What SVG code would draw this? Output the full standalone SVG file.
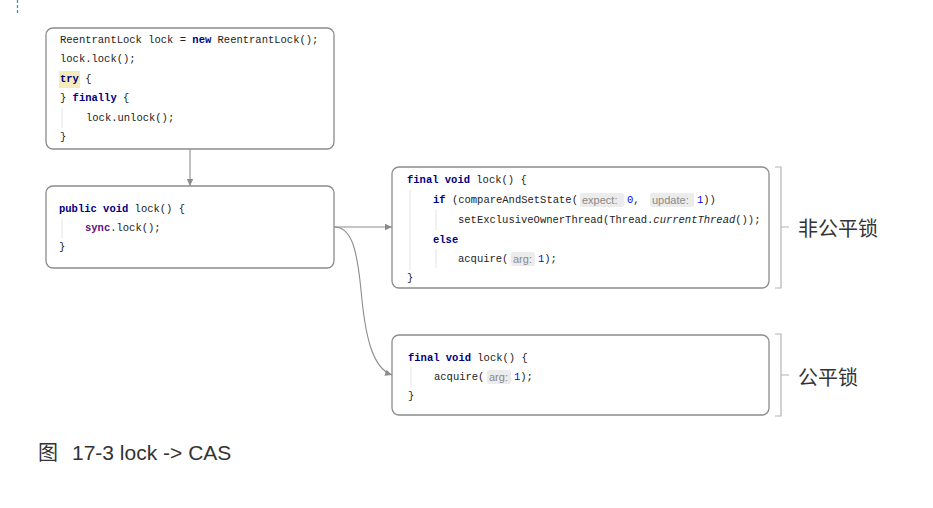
<svg xmlns="http://www.w3.org/2000/svg" width="933" height="508" viewBox="0 0 933 508">
<style>
.box{fill:#fff;stroke:#8c8c8c;stroke-width:1.3}
.code{font-family:"Liberation Mono","DejaVu Sans Mono",monospace;font-size:10.5px;fill:#222}
.kw{font-weight:bold;fill:#000080}
.fld{font-weight:bold;fill:#660E7A}
.num{fill:#0000FF}
.it{font-style:italic}
.hintbg{fill:#ececec}
.hint{font-family:"Liberation Sans","Noto Sans",sans-serif;font-size:11px;fill:#8a8a8a}
.guide{stroke:#e4e4e4;stroke-width:1}
.conn{fill:none;stroke:#8c8c8c;stroke-width:1.1}
.brk{fill:none;stroke:#b4b4b4;stroke-width:1.2}
.lbl{font-family:"Noto Sans CJK SC","Liberation Sans",sans-serif;font-size:20px;fill:#333}
.cap{font-family:"Liberation Sans","Noto Sans CJK SC",sans-serif;font-size:21px;fill:#333}
</style>
<defs>
<marker id="arr" markerWidth="8" markerHeight="8" refX="7" refY="4" orient="auto" markerUnits="userSpaceOnUse">
<path d="M0,0.8 L7,4 L0,7.2 Z" fill="#8c8c8c"/>
</marker>
</defs>
<rect width="933" height="508" fill="#fff"/>
<line x1="17.5" y1="0" x2="17.5" y2="14" stroke="#2aa39a" stroke-width="1.3" stroke-dasharray="3,2"/>

<g id="connectors">
<line class="conn" x1="190" y1="149" x2="190" y2="186" marker-end="url(#arr)"/>
<line class="conn" x1="334" y1="227" x2="392" y2="227" marker-end="url(#arr)"/>
<path class="conn" d="M334,227 C352,227 357,250 361,290 C365,335 372,368 392,375" marker-end="url(#arr)"/>
</g>

<g id="node-usage">
<rect class="box" x="46" y="28" width="288" height="121" rx="7"/>
<rect x="59" y="71" width="21" height="17" fill="#f6ebbc"/>
<line class="guide" x1="62" y1="108" x2="62" y2="128"/>
<text class="code" x="60" y="43">ReentrantLock lock = <tspan class="kw">new</tspan> ReentrantLock();</text>
<text class="code" x="60" y="62">lock.lock();</text>
<text class="code" x="60" y="82"><tspan class="kw">try</tspan> {</text>
<text class="code" x="60" y="101">} <tspan class="kw">finally</tspan> {</text>
<text class="code" x="86" y="121">lock.unlock();</text>
<text class="code" x="60" y="140">}</text>
</g>

<g id="node-lock">
<rect class="box" x="46" y="186" width="288" height="82" rx="7"/>
<line class="guide" x1="62" y1="219" x2="62" y2="238"/>
<text class="code" x="59" y="212"><tspan class="kw">public void</tspan> lock() {</text>
<text class="code" x="85" y="231"><tspan class="fld">sync</tspan>.lock();</text>
<text class="code" x="59" y="250">}</text>
</g>

<g id="node-nonfair">
<rect class="box" x="392" y="167" width="377" height="121" rx="7"/>
<line class="guide" x1="410" y1="190" x2="410" y2="270"/>
<line class="guide" x1="436" y1="210" x2="436" y2="230"/>
<line class="guide" x1="436" y1="249" x2="436" y2="268"/>
<text class="code" x="407" y="183"><tspan class="kw">final void</tspan> lock() {</text>
<text class="code" x="433" y="203"><tspan class="kw">if</tspan> (compareAndSetState(</text>
<rect class="hintbg" x="580" y="193" width="44" height="14" rx="2"/>
<text class="hint" x="582" y="204">expect:</text>
<text class="code" x="627" y="203"><tspan class="num">0</tspan>,</text>
<rect class="hintbg" x="650" y="193" width="44" height="14" rx="2"/>
<text class="hint" x="652" y="204">update:</text>
<text class="code" x="697" y="203"><tspan class="num">1</tspan>))</text>
<text class="code" x="458" y="223">setExclusiveOwnerThread(Thread.<tspan class="it">currentThread</tspan>());</text>
<text class="code" x="433" y="243"><tspan class="kw">else</tspan></text>
<text class="code" x="458" y="262">acquire(</text>
<rect class="hintbg" x="511" y="252" width="24" height="14" rx="2"/>
<text class="hint" x="513" y="263">arg:</text>
<text class="code" x="538" y="262"><tspan class="num">1</tspan>);</text>
<text class="code" x="407" y="281">}</text>
</g>

<g id="node-fair">
<rect class="box" x="392" y="335" width="377" height="80" rx="7"/>
<line class="guide" x1="411" y1="367" x2="411" y2="387"/>
<text class="code" x="408" y="361"><tspan class="kw">final void</tspan> lock() {</text>
<text class="code" x="434" y="380">acquire(</text>
<rect class="hintbg" x="487" y="370" width="24" height="14" rx="2"/>
<text class="hint" x="489" y="381">arg:</text>
<text class="code" x="514" y="380"><tspan class="num">1</tspan>);</text>
<text class="code" x="408" y="399">}</text>
</g>

<g id="label-nonfair">
<path class="brk" d="M775,167 H781 V288 H775 M781,227 H789"/>
<text class="lbl" x="798" y="236">非公平锁</text>
</g>

<g id="label-fair">
<path class="brk" d="M775,334 H781 V416 H775 M781,375 H789"/>
<text class="lbl" x="798" y="385">公平锁</text>
</g>

<g id="caption">
<text class="cap" x="38" y="460"><tspan font-family="Noto Sans CJK SC, sans-serif" font-size="20">图</tspan><tspan x="72">17-3 lock -&gt; CAS</tspan></text>
</g>
</svg>
